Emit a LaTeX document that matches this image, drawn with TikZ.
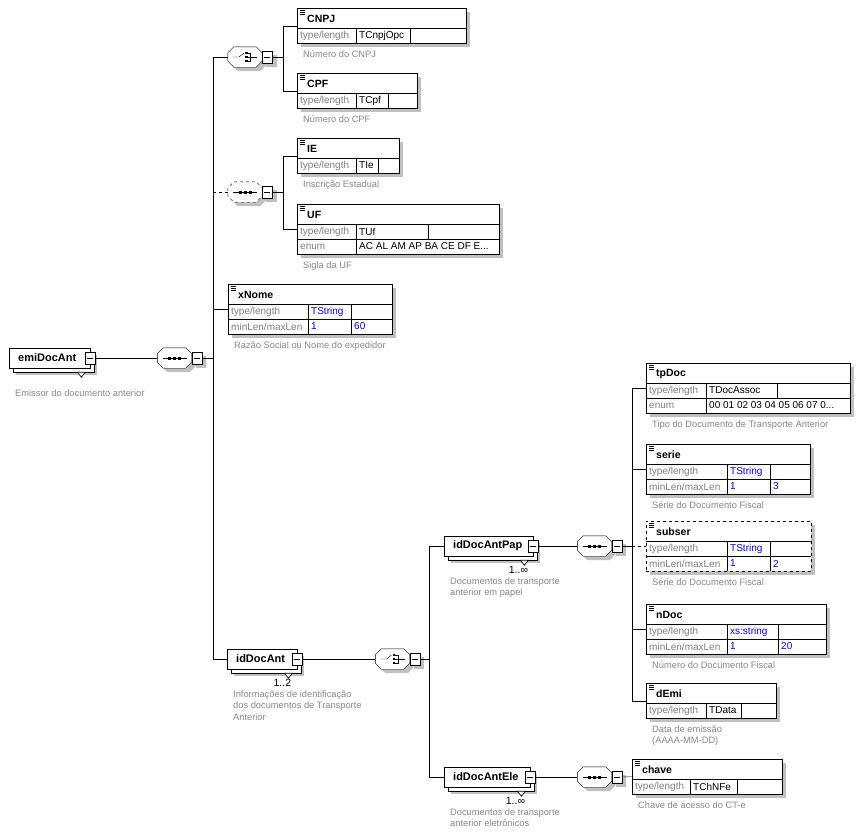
\documentclass[tikz,border=0pt]{standalone}
\usepackage{fontspec}
\setmainfont{Liberation Sans}
\usetikzlibrary{positioning, calc}

\definecolor{lblgray}{HTML}{808080}
\definecolor{descgray}{HTML}{8A8A8A}
\definecolor{valblue}{HTML}{0000FF}
\definecolor{shadegray}{HTML}{C0C0C0}

\pgfdeclarelayer{bottom}
\pgfdeclarelayer{shade}
\pgfsetlayers{bottom,shade,main}

\tikzset{
  elbox/.style={draw, fill=white, inner sep=0pt, anchor=north west},
  cplxbox/.style={draw, fill=white, inner sep=0pt, minimum height=20, anchor=west},
  comp/.style={rectangle, minimum width=34, minimum height=20, inner sep=0pt},
  minusbox/.style={draw, fill=white, minimum width=10, minimum height=12, inner sep=0pt, anchor=west,
    path picture={\draw[line width=0.8pt] ([xshift=2pt]path picture bounding box.west)
      -- ([xshift=-2pt]path picture bounding box.east);}},
  eltitle/.style={font=\fontsize{10.5}{12}\selectfont\bfseries, anchor=west, inner sep=0pt},
  cplxtitle/.style={font=\fontsize{11}{13}\selectfont\bfseries, anchor=west, inner sep=0pt},
  lbl/.style={font=\fontsize{10}{12}\selectfont, text=lblgray, anchor=west, inner sep=0pt},
  valk/.style={font=\fontsize{10}{12}\selectfont, text=black, anchor=west, inner sep=0pt},
  valb/.style={font=\fontsize{10}{12}\selectfont, text=valblue, anchor=west, inner sep=0pt},
  desc/.style={font=\fontsize{9.3}{11.5}\selectfont, text=descgray, anchor=north west,
    inner sep=0pt, align=left},
  mult/.style={font=\fontsize{10.5}{12}\selectfont, inner sep=0pt},
  shadecanvas/.style={fill=shadegray, transform canvas={shift={(4pt,-4pt)}}},
}

% simple element frame with its shadow: name, north west, width, height, extra options
\newcommand{\elnode}[5]{%
  \node[elbox, minimum width=#3, minimum height=#4, #5] (#1) at #2 {};
  \begin{pgfonlayer}{shade}
    \fill[shadegray] ($(#1.north west)+(4,4)$) rectangle ($(#1.south east)+(4,4)$);
  \end{pgfonlayer}}
% header of a simple element: icon, name, line under it
\newcommand{\elhead}[2]{%
  \foreach \k in {2.5,4.5,6.5}
    \draw[line width=0.6pt] ($(#1.north west)+(3,\k)$) -- ++(5,0);
  \node[eltitle] (#1-t) at ($(#1.north west)+(10,11)$) {#2};
  \draw ($(#1.north west)+(0,20)$) -- ($(#1.north east)+(0,20)$);
}
% one facet row: box, row top, col1, col2, label, value style, value1, value2
\newcommand{\elrow}[8]{%
  \draw ($(#1.north west)+(0,#2)$) -- ($(#1.north east)+(0,#2)$);
  \draw ($(#1.north west)+(#3,#2)$) -- ++(0,15);
  \draw ($(#1.north west)+(#4,#2)$) -- ++(0,15);
  \node[lbl] (#1-l#2) at ($(#1.north west)+(3,#2+7.5)$) {#5};
  \node[#6] (#1-a#2) at ($(#1.north west)+(#3+3,#2+7.5)$) {#7};
  \node[#6] (#1-b#2) at ($(#1.north west)+(#4+3,#2+7.5)$) {#8};
}
% enumeration row
\newcommand{\elenum}[4]{%
  \draw ($(#1.north west)+(0,#2)$) -- ($(#1.north east)+(0,#2)$);
  \draw ($(#1.north west)+(#3,#2)$) -- ++(0,15);
  \node[lbl] (#1-l#2) at ($(#1.north west)+(3,#2+7.5)$) {enum};
  \node[valk] (#1-a#2) at ($(#1.north west)+(#3+3,#2+7.5)$) {#4};
}
% complex element: name, west point, width, title
\newcommand{\cplx}[4]{%
  \node[cplxbox, minimum width=#3] (#1) at #2 {};
  \begin{pgfonlayer}{shade}
    \fill[shadegray] ($(#1.north west)+(7,7)$) rectangle ($(#1.south east)+(7,7)$);
    \draw[fill=white] ($(#1.north west)+(4,4)$) rectangle ($(#1.south east)+(4,4)$);
  \end{pgfonlayer}
  \node[cplxtitle] (#1-t) at ($(#1.west)+(9,0)$) {#4};
  \node[minusbox, anchor=center] (#1-m) at (#1.east) {};
  \draw[fill=white, line width=0.7pt] ($(#1.south east)+(-13,4)$) -- ++(8,0) -- ++(-4,5) -- cycle;
}
% outline of a compositor
\newcommand{\octpath}[1]{($(#1.north west)+(6,0)$) -- ($(#1.north east)+(-6,0)$)
  -- ($(#1.north east)+(0,6)$) -- ($(#1.south east)+(0,-6)$) -- ($(#1.south east)+(-6,0)$)
  -- ($(#1.south west)+(6,0)$) -- ($(#1.south west)+(0,-6)$) -- ($(#1.north west)+(0,6)$) -- cycle}
% compositor: name, centre, symbol macro, border options
\newcommand{\compo}[4]{%
  \node[comp] (#1) at #2 {};
  \node[minusbox, draw=none, fill=none] (#1-m) at (#1.east) {};
  \begin{pgfonlayer}{shade}
    \fill[shadecanvas] \octpath{#1};
    \fill[shadecanvas] (#1-m.north west) rectangle (#1-m.south east);
  \end{pgfonlayer}
  \draw[fill=white, #4] \octpath{#1};
  #3{#1}
  \node[minusbox] at (#1-m) [anchor=center] {};
}
% compositor symbols
\newcommand{\seqsym}[1]{%
  \draw ($(#1.center)+(-12,0)$) -- ($(#1.center)+(12,0)$);
  \foreach \d in {-5,0,5}
    \fill ($(#1.center)+(\d-1.5,-1.5)$) rectangle ++(3,3);
}
\newcommand{\chsym}[1]{%
  \draw ($(#1.center)+(-12,0)$) -- ($(#1.center)+(-6,0)$) -- ++(5,-4);
  \foreach \d in {-4,0,4}
    \fill ($(#1.center)+(0,\d-1)$) rectangle ++(2.5,2);
  \draw ($(#1.center)+(2.5,-4)$) -- ++(3,0) -- ++(0,8) -- ++(-3,0);
  \draw ($(#1.center)+(2.5,0)$) -- ++(9.5,0);
}

\begin{document}
\begin{tikzpicture}[x=1pt, y=-1pt, line width=0.9pt]
  \useasboundingbox (0,0) rectangle (864,838);
  \begin{pgfonlayer}{bottom}
    \fill[white] (0,0) rectangle (864,838);
  \end{pgfonlayer}

  % root element
  \cplx{emi}{(9,358)}{81}{emiDocAnt}
  \node[desc] (emi-d) at ($(emi.south west)+(6,21)$) {Emissor do documento anterior};

  % its sequence
  \compo{s0}{(174.5,358)}{\seqsym}{}
  \draw (emi-m.east) -- (s0.west);

  % choice CNPJ / CPF
  \compo{c1}{(245,57)}{\chsym}{}

  \elnode{cnpj}{(297,8)}{169}{35}{}
  \elhead{cnpj}{CNPJ}
  \elrow{cnpj}{20}{59}{113}{type/length}{valk}{TCnpjOpc}{}
  \node[desc] (cnpj-d) at ($(cnpj.south west)+(6,7)$) {Número do CNPJ};

  \elnode{cpf}{(297,73)}{120}{35}{}
  \elhead{cpf}{CPF}
  \elrow{cpf}{20}{59}{91}{type/length}{valk}{TCpf}{}
  \node[desc] (cpf-d) at ($(cpf.south west)+(6,7)$) {Número do CPF};

  % optional sequence IE / UF
  \compo{s2}{(245,192)}{\seqsym}{dashed}

  \elnode{ie}{(297,138)}{102}{35}{}
  \elhead{ie}{IE}
  \elrow{ie}{20}{59}{81}{type/length}{valk}{TIe}{}
  \node[desc] (ie-d) at ($(ie.south west)+(6,7)$) {Inscrição Estadual};

  \elnode{uf}{(297,204)}{202}{50}{}
  \elhead{uf}{UF}
  \elrow{uf}{20}{59}{131}{type/length}{valk}{TUf}{}
  \elenum{uf}{35}{59}{AC AL AM AP BA CE DF E...}
  \node[desc] (uf-d) at ($(uf.south west)+(6,7)$) {Sigla da UF};

  % xNome
  \elnode{xnome}{(228,284)}{164}{50}{}
  \elhead{xnome}{xNome}
  \elrow{xnome}{20}{80}{123}{type/length}{valb}{TString}{}
  \elrow{xnome}{35}{80}{123}{minLen/maxLen}{valb}{1}{60}
  \node[desc] (xnome-d) at ($(xnome.south west)+(6,7)$) {Razão Social ou Nome do expedidor};

  % idDocAnt
  \cplx{iddoc}{(227,659)}{70}{idDocAnt}
  \node[mult] (iddoc-n) at ($(iddoc.south east)+(-15,14)$) {1..2};
  \node[desc] (iddoc-d) at ($(iddoc.south west)+(6,21)$)
    {Informações de identificação\\dos documentos de Transporte\\Anterior};

  \compo{c3}{(392.5,659)}{\chsym}{}
  \draw (iddoc-m.east) -- (c3.west);

  % idDocAntPap
  \cplx{pap}{(444,546)}{89}{idDocAntPap}
  \node[mult] (pap-n) at ($(pap.south east)+(-15,14)$) {1..∞};
  \node[desc] (pap-d) at ($(pap.south west)+(6,21)$)
    {Documentos de transporte\\anterior em papel};

  \compo{s4}{(594.5,546)}{\seqsym}{}
  \draw (pap-m.east) -- (s4.west);

  \elnode{tpdoc}{(646,363)}{204}{50}{}
  \elhead{tpdoc}{tpDoc}
  \elrow{tpdoc}{20}{60}{131}{type/length}{valk}{TDocAssoc}{}
  \elenum{tpdoc}{35}{60}{00 01 02 03 04 05 06 07 0...}
  \node[desc] (tpdoc-d) at ($(tpdoc.south west)+(6,7)$) {Tipo do Documento de Transporte Anterior};

  \elnode{serie}{(646,444)}{164}{50}{}
  \elhead{serie}{serie}
  \elrow{serie}{20}{81}{124}{type/length}{valb}{TString}{}
  \elrow{serie}{35}{81}{124}{minLen/maxLen}{valb}{1}{3}
  \node[desc] (serie-d) at ($(serie.south west)+(6,7)$) {Série do Documento Fiscal};

  \elnode{subser}{(646,521)}{165}{50}{dashed}
  \elhead{subser}{subser}
  \elrow{subser}{20}{81}{124}{type/length}{valb}{TString}{}
  \elrow{subser}{35}{81}{124}{minLen/maxLen}{valb}{1}{2}
  \node[desc] (subser-d) at ($(subser.south west)+(6,7)$) {Série do Documento Fiscal};

  \elnode{ndoc}{(646,604)}{180}{50}{}
  \elhead{ndoc}{nDoc}
  \elrow{ndoc}{20}{81}{132}{type/length}{valb}{xs:string}{}
  \elrow{ndoc}{35}{81}{132}{minLen/maxLen}{valb}{1}{20}
  \node[desc] (ndoc-d) at ($(ndoc.south west)+(6,7)$) {Número do Documento Fiscal};

  \elnode{demi}{(646,683)}{130}{35}{}
  \elhead{demi}{dEmi}
  \elrow{demi}{20}{60}{95}{type/length}{valk}{TData}{}
  \node[desc] (demi-d) at ($(demi.south west)+(6,7)$) {Data de emissão\\(AAAA-MM-DD)};

  % idDocAntEle
  \cplx{ele}{(444,777)}{86}{idDocAntEle}
  \node[mult] (ele-n) at ($(ele.south east)+(-15,14)$) {1..∞};
  \node[desc] (ele-d) at ($(ele.south west)+(6,21)$)
    {Documentos de transporte\\anterior eletrônicos};

  \compo{s5}{(594.5,777)}{\seqsym}{}
  \draw (ele-m.east) -- (s5.west);

  \elnode{chave}{(632,759)}{150}{35}{}
  \elhead{chave}{chave}
  \elrow{chave}{20}{58}{105}{type/length}{valk}{TChNFe}{}
  \node[desc] (chave-d) at ($(chave.south west)+(6,7)$) {Chave de acesso do CT-e};
  \draw (s5-m.east) -- (chave.west);

  % connectors
  \coordinate (ta) at (213,358);
  \draw (s0-m.east) -- (ta);
  \draw (ta) |- (c1.west);
  \draw (ta) |- (xnome.west);
  \draw (ta) |- (iddoc.west);
  \draw[dashed] (ta |- s2.west) -- (s2.west);

  \coordinate (tb) at (283,57);
  \draw (c1-m.east) -- (tb);
  \draw (tb) |- (cnpj.west);
  \draw (tb) |- (cpf.west);

  \coordinate (tc) at (283,192);
  \draw (s2-m.east) -- (tc);
  \draw (tc) |- (ie.west);
  \draw (tc) |- (uf.west);

  \coordinate (td) at (429,659);
  \draw (c3-m.east) -- (td);
  \draw (td) |- (pap.west);
  \draw (td) |- (ele.west);

  \coordinate (te) at (632,546);
  \draw (s4-m.east) -- (te);
  \draw (te) |- (tpdoc.west);
  \draw (te) |- (serie.west);
  \draw (te) |- (ndoc.west);
  \draw (te) |- (demi.west);
  \draw[dashed] (te |- subser.west) -- (subser.west);
\end{tikzpicture}
\end{document}
